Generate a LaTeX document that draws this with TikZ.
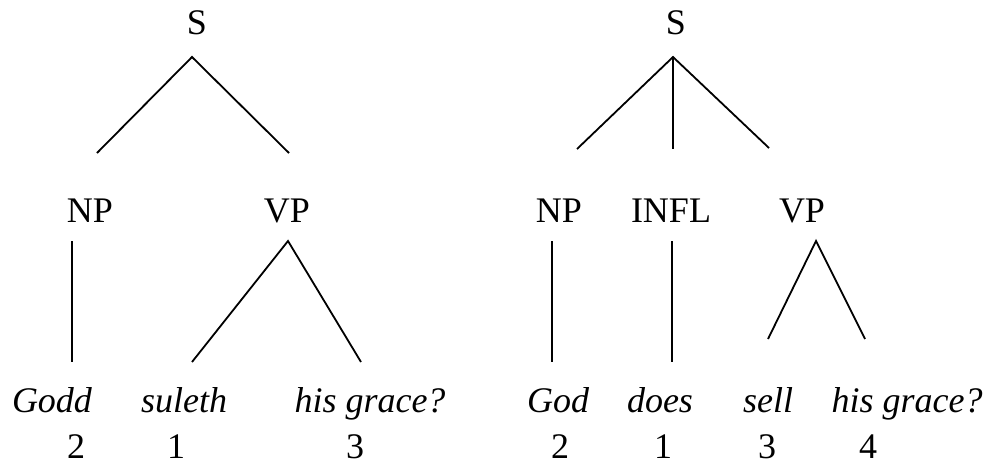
\documentclass[tikz,border=0pt]{standalone}
\usepackage{fontspec}
\setmainfont{Liberation Serif}
\begin{document}
\begin{tikzpicture}[x=1pt,y=-1pt,
  lbl/.style={anchor=base,inner sep=0pt,font=\fontsize{36}{43}\selectfont},
  wrd/.style={lbl,font=\fontsize{36}{43}\selectfont\itshape},
  branch/.style={line width=1.8pt,line cap=butt}]
\useasboundingbox (0,0) rectangle (990,464);
% left tree
\node[lbl] (S1) at (197,34) {S};
\node[lbl] (NP1) at (90,222) {NP};
\node[lbl] (VP1) at (287,222) {VP};
\node[wrd] (w11) at (52,412) {Godd};
\node[wrd] (w12) at (184,412) {suleth};
\node[wrd] (w13) at (370,412) {his grace?};
\node[lbl] (n11) at (76,458) {2};
\node[lbl] (n12) at (176,458) {1};
\node[lbl] (n13) at (355,458) {3};
\coordinate (a1) at (192,57);
\coordinate (a1l) at (97,153);
\coordinate (a1r) at (289,153);
\coordinate (b1t) at (72,241);
\coordinate (b1b) at (72,362);
\coordinate (c1) at (288,241);
\coordinate (c1l) at (192,362);
\coordinate (c1r) at (361,362);
\draw[branch] (a1l) -- (a1) -- (a1r);
\draw[branch] (b1t) -- (b1b);
\draw[branch] (c1l) -- (c1) -- (c1r);
% right tree
\node[lbl] (S2) at (676,34) {S};
\node[lbl] (NP2) at (559,222) {NP};
\node[lbl] (INFL2) at (671,222) {INFL};
\node[lbl] (VP2) at (802,222) {VP};
\node[wrd] (w21) at (558,412) {God};
\node[wrd] (w22) at (660,412) {does};
\node[wrd] (w23) at (768,412) {sell};
\node[wrd] (w24) at (907,412) {his grace?};
\node[lbl] (n21) at (560,458) {2};
\node[lbl] (n22) at (663,458) {1};
\node[lbl] (n23) at (767,458) {3};
\node[lbl] (n24) at (868,458) {4};
\coordinate (a2) at (673,57);
\coordinate (a2l) at (577,149);
\coordinate (a2m) at (673,149);
\coordinate (a2r) at (769,148);
\coordinate (b2t) at (552,241);
\coordinate (b2b) at (552,362);
\coordinate (d2t) at (672,241);
\coordinate (d2b) at (672,362);
\coordinate (c2) at (816,241);
\coordinate (c2l) at (768,339);
\coordinate (c2r) at (865,339);
\draw[branch] (a2l) -- (a2) -- (a2r);
\draw[branch] (a2) -- (a2m);
\draw[branch] (b2t) -- (b2b);
\draw[branch] (d2t) -- (d2b);
\draw[branch] (c2l) -- (c2) -- (c2r);
\end{tikzpicture}
\end{document}
